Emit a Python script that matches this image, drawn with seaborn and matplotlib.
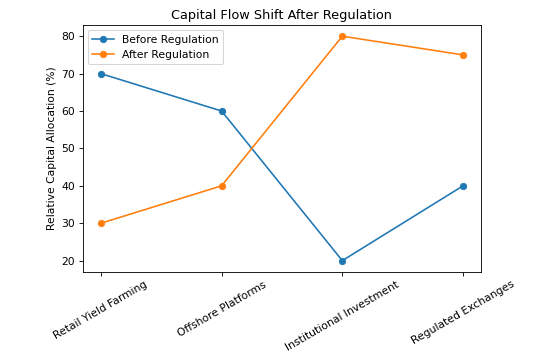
import matplotlib
matplotlib.use("Agg")
import matplotlib.pyplot as plt
import seaborn as sns
import pandas as pd

categories = ["Retail Yield Farming", "Offshore Platforms", "Institutional Investment", "Regulated Exchanges"]
before = [70, 60, 20, 40]
after = [30, 40, 80, 75]

df = pd.DataFrame({
    "category": categories * 2,
    "value": before + after,
    "series": ["Before Regulation"] * len(categories) + ["After Regulation"] * len(categories),
})

# rendered at a lower dpi so the text matches the reference scale
fig, ax = plt.subplots(figsize=(534 / 77, 362 / 77), dpi=77)
sns.lineplot(data=df, x="category", y="value", hue="series", marker="o",
             markersize=6, linewidth=1.5,
             palette=["#1f77b4", "#ff7f0e"], sort=False, ax=ax)
for line in ax.lines:
    line.set_markeredgecolor(line.get_color())

ax.set_title("Capital Flow Shift After Regulation")
ax.set_xlabel("")
ax.set_ylabel("Relative Capital Allocation (%)")
ax.legend(title=None, loc="upper left")
plt.setp(ax.get_xticklabels(), rotation=30)
fig.subplots_adjust(left=0.155, right=0.901, top=0.931, bottom=0.249)
fig.savefig("out.png", dpi=77)
